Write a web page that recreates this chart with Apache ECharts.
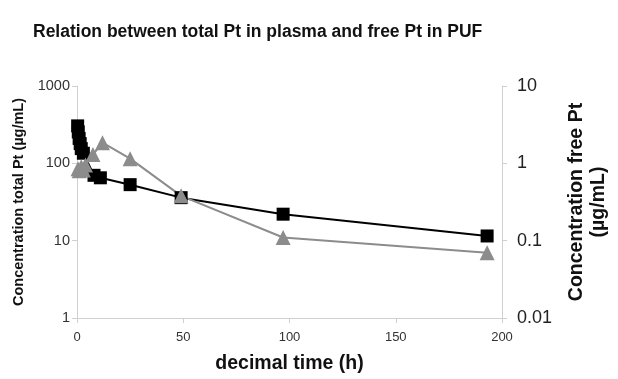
<!DOCTYPE html>
<html>
<head>
<meta charset="utf-8">
<script src="https://cdn.jsdelivr.net/npm/echarts@6/dist/echarts.min.js"></script>
<style>html,body{margin:0;padding:0;background:#fff;overflow:hidden}#c{width:618px;height:379px}</style>
</head>
<body>
<div id="c"></div>
<script>
// total Pt in plasma (µg/mL), left axis
const totalTime = [0.3, 0.6, 1, 1.5, 2, 3, 8, 11, 25, 49, 97, 193];
const totalPt   = [305, 255, 210, 180, 155, 135, 70, 65, 53, 36, 22, 11.5];
// free Pt in PUF (µg/mL), right axis
const freeTime = [0.5, 1, 2, 3, 4, 7.5, 12, 25, 49, 97, 193];
const freePt   = [0.85, 0.8, 0.9, 0.82, 0.95, 1.3, 1.85, 1.15, 0.38, 0.11, 0.07];
const leftTicks = [1, 10, 100, 1000];
const rightTicks = [0.01, 0.1, 1, 10];

const font = 'Liberation Sans, Arial, sans-serif';
const chart = echarts.init(document.getElementById('c'));
chart.setOption({
  animation: false,
  title: {
    text: 'Relation between total Pt in plasma and free Pt in PUF',
    left: 28, top: 18,
    textStyle: {fontFamily: font, fontSize: 17.5, fontWeight: 'bold', color: '#111'}
  },
  grid: {left: 77, right: 111, top: 86, bottom: 61},
  xAxis: {
    type: 'value', min: 0, max: 200, interval: 50,
    name: 'decimal time (h)', nameLocation: 'middle', nameGap: 36,
    nameTextStyle: {fontFamily: font, fontSize: 19.5, fontWeight: 'bold', color: '#111'},
    axisLine: {lineStyle: {color: '#d0d0d0'}},
    axisTick: {show: true, lineStyle: {color: '#d0d0d0'}},
    axisLabel: {fontFamily: font, fontSize: 13, color: '#333', margin: 13},
    splitLine: {show: false}
  },
  yAxis: [{
    type: 'log', logBase: 10, min: 1, max: 1000,
    name: 'Concentration total Pt (µg/mL)', nameLocation: 'middle', nameGap: 50,
    nameTextStyle: {fontFamily: font, fontSize: 14.5, fontWeight: 'bold', color: '#111'},
    axisLine: {show: true, lineStyle: {color: '#d0d0d0'}},
    axisTick: {show: true, lineStyle: {color: '#d0d0d0'}},
    axisLabel: {fontFamily: font, fontSize: 14.5, color: '#333', margin: 7,
      formatter: v => leftTicks.find(t => Math.abs(t - v) / t < 1e-6) !== undefined ? String(v) : ''},
    splitLine: {show: false}
  }, {
    type: 'log', logBase: 10, min: 0.01, max: 10, position: 'right',
    name: 'Concentration free Pt\n(µg/mL)', nameLocation: 'middle', nameGap: 64, nameRotate: 90,
    nameTextStyle: {fontFamily: font, fontSize: 19.5, fontWeight: 'bold', color: '#111', lineHeight: 22},
    axisLine: {show: true, lineStyle: {color: '#d0d0d0'}},
    axisTick: {show: true, lineStyle: {color: '#d0d0d0'}},
    axisLabel: {fontFamily: font, fontSize: 18, color: '#222', margin: 15,
      formatter: v => { const t = rightTicks.find(t => Math.abs(t - v) / t < 1e-6); return t !== undefined ? String(t) : ''; }},
    splitLine: {show: false}
  }],
  series: [{
    type: 'line', yAxisIndex: 0,
    data: totalTime.map((t, i) => [t, totalPt[i]]),
    symbol: 'rect', symbolSize: 13,
    lineStyle: {color: '#000', width: 2},
    itemStyle: {color: '#000'}
  }, {
    type: 'line', yAxisIndex: 1,
    data: freeTime.map((t, i) => [t, freePt[i]]),
    symbol: 'triangle', symbolSize: 15,
    lineStyle: {color: '#8c8c8c', width: 2},
    itemStyle: {color: '#8c8c8c'}
  }]
});
</script>
</body>
</html>
